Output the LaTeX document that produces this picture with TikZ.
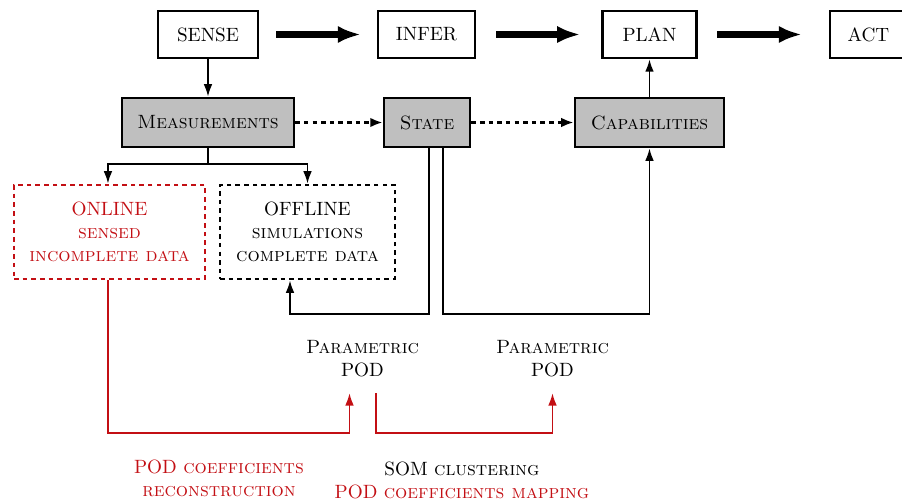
\documentclass[tikz,border=0pt]{standalone}
\usepackage{xcolor}
\usepackage{amsmath,amssymb}
\usepackage{tikz}
\usetikzlibrary{arrows.meta}
\definecolor{podred}{RGB}{195,15,20}

\begin{document}
\begin{tikzpicture}[x=0.52pt,y=-0.52pt,
        paso/.style={draw, line width=1.3pt, minimum height=24.4pt, inner sep=0pt},
        bloque/.style={draw, fill=gray!50, line width=1.3pt, minimum height=25.5pt, inner sep=0pt},
        datos/.style={draw, line width=1.3pt, dash pattern=on 2.4pt off 2.1pt, minimum height=48.9pt, inner sep=0pt, align=center},
        flecha/.style={-{Latex[length=6.5pt,width=4.5pt]}, line width=1pt},
        grande/.style={-{Latex[length=12pt,width=9pt]}, line width=3.3pt},
        punteada/.style={-{Latex[length=6.5pt,width=5pt]}, line width=1.4pt, dash pattern=on 2.4pt off 2.1pt},
        roja/.style={flecha, podred},
        texto/.style={align=center}]
        \useasboundingbox (0,0) rectangle (902,500);

        % fila de arriba
        \node[paso, minimum width=52pt] (sense) at (208,34.5) {SENSE};
        \node[paso, minimum width=50.4pt] (infer) at (426.5,34.5) {INFER};
        \node[paso, minimum width=48.9pt] (plan) at (649.5,34.5) {PLAN};
        \node[paso, minimum width=40pt] (act) at (868.5,34.5) {ACT};

        \draw[grande, shorten <=8.8pt, shorten >=8.3pt] (sense) -- (infer);
        \draw[grande, shorten <=10.4pt, shorten >=10.9pt] (infer) -- (plan);
        \draw[grande, shorten <=10.2pt, shorten >=14pt] (plan) -- (act);

        % bloques grises
        \node[bloque, minimum width=89.4pt] (meas) at (208,122.5) {\textsc{Measurements}};
        \node[bloque, minimum width=44.7pt] (state) at (427,122.5) {\textsc{State}};
        \node[bloque, minimum width=77.5pt] (cap) at (649.5,122.5) {\textsc{Capabilities}};

        \draw[flecha] (sense) -- (meas);
        \draw[flecha] (cap) -- (plan);
        \draw[punteada] (meas) -- (state);
        \draw[punteada] (state) -- (cap);

        % datos
        \node[datos, podred, minimum width=99.3pt] (online) at (109.5,232) {ONLINE\\\textsc{sensed}\\\textsc{incomplete data}};
        \node[datos, minimum width=91pt] (offline) at (307.5,232) {OFFLINE\\\textsc{simulations}\\\textsc{complete data}};

        \draw[flecha] (meas.south) -- ++(0,16) -| ([xshift=-0.8pt]online.north);
        \draw[flecha] (meas.south) -- ++(0,16) -| (offline.north);

        \coordinate (c1) at (290,314);
        \draw[flecha] ([xshift=1pt]state.south) |- (c1) -- (c1 |- offline.south);
        \draw[flecha] ([xshift=8.4pt]state.south) |- (cap.south |- c1) -- (cap.south);

        % POD
        \node[texto] (pod1) at (362.5,359) {\textsc{Parametric}\\POD};
        \node[texto] (pod2) at (552.5,359) {\textsc{Parametric}\\POD};

        \coordinate (r1) at (349.5,393);
        \coordinate (r2) at (376,393);
        \coordinate (r3) at (552.5,393);
        \draw[roja] ([xshift=-0.8pt]online.south) |- ([yshift=-20.8pt]r1) -- (r1);
        \draw[roja] (r2) -- ++(0,40) -| (r3);

        \node[texto, podred] (rec) at (219,478) {POD \textsc{coefficients}\\\textsc{reconstruction}};
        \node[texto] (som) at (462,480) {SOM \textsc{clustering}\\\textcolor{podred}{POD \textsc{coefficients mapping}}};
    \end{tikzpicture}
\end{document}
